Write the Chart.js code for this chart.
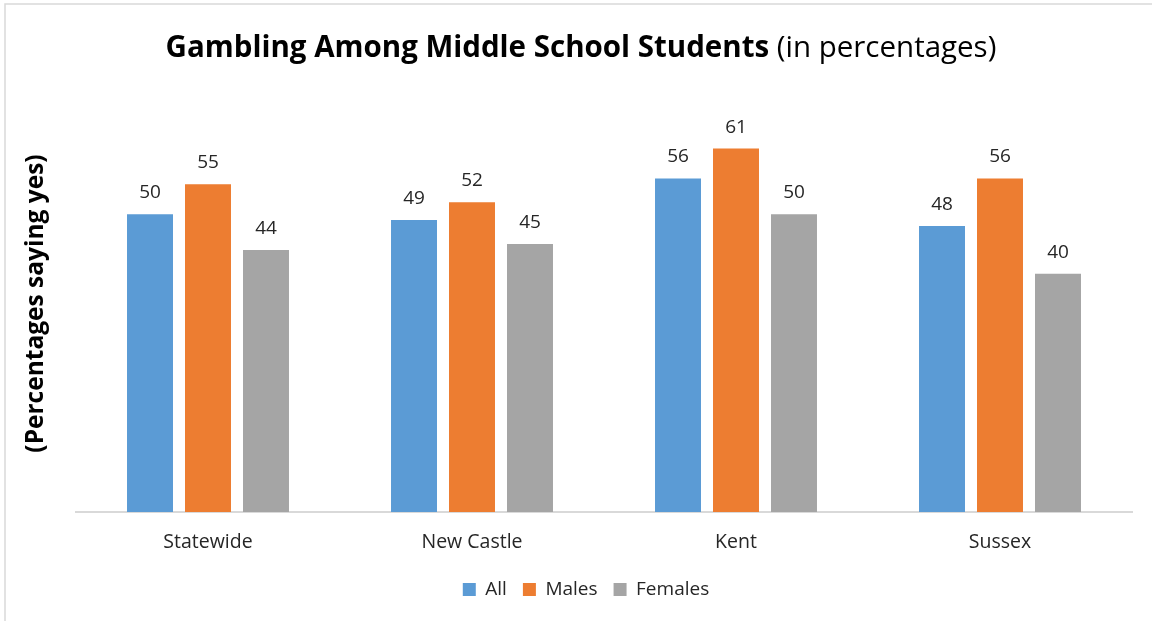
<!DOCTYPE html>
<html>
<head>
<meta charset="utf-8">
<script src="https://cdn.jsdelivr.net/npm/chart.js@4.4.1/dist/chart.umd.min.js"></script>
<style>
  html, body { margin: 0; padding: 0; background: #ffffff; }
  #wrap { width: 1152px; height: 621px; }
</style>
</head>
<body>
<div id="wrap"><canvas id="chart" width="1152" height="621"></canvas></div>
<script>
// Survey results by region
const categories = ['Statewide', 'New Castle', 'Kent', 'Sussex'];
const allStudents = [50, 49, 56, 48];
const males = [55, 52, 61, 56];
const females = [44, 45, 50, 40];
const seriesNames = ['All', 'Males', 'Females'];

const titleBold = 'Gambling Among Middle School Students';
const titleRest = ' (in percentages)';
const yAxisTitle = '(Percentages saying yes)';

const FONT = '"Open Sans", "Noto Sans", sans-serif';
const TEXT = '#262626';

// White background and thin frame around the chart
const framePlugin = {
  id: 'frame',
  beforeDraw(chart) {
    const ctx = chart.ctx;
    ctx.save();
    ctx.fillStyle = '#ffffff';
    ctx.fillRect(0, 0, chart.width, chart.height);
    ctx.strokeStyle = '#D9D9D9';
    ctx.lineWidth = 1.5;
    ctx.beginPath();
    ctx.moveTo(5, chart.height);
    ctx.lineTo(5, 4);
    ctx.lineTo(chart.width, 4);
    ctx.stroke();
    ctx.restore();
  }
};

// Two-part title: bold main text followed by a regular-weight note
const titlePlugin = {
  id: 'mixedTitle',
  afterDraw(chart) {
    const ctx = chart.ctx;
    ctx.save();
    const boldFont = 'bold 29.5px ' + FONT;
    const normFont = '29.5px ' + FONT;
    ctx.font = boldFont;
    const wb = ctx.measureText(titleBold).width;
    ctx.font = normFont;
    const wn = ctx.measureText(titleRest).width;
    const cx = 581;
    const x = cx - (wb + wn) / 2;
    const y = 57;
    ctx.textAlign = 'left';
    ctx.textBaseline = 'alphabetic';
    ctx.fillStyle = '#000000';
    ctx.font = boldFont;
    ctx.fillText(titleBold, x, y);
    ctx.font = normFont;
    ctx.fillText(titleRest, x + wb, y);
    ctx.restore();
  }
};

// Legend row sits a little right of the page centre, under the plot
const legendShift = {
  id: 'legendShift',
  afterLayout(chart) {
    const lg = chart.legend;
    if (lg) { lg.left += 17; lg.right += 17; }
  }
};

// Value printed above each bar
const valueLabels = {
  id: 'valueLabels',
  afterDatasetsDraw(chart) {
    const ctx = chart.ctx;
    ctx.save();
    ctx.font = '19px ' + FONT;
    ctx.fillStyle = TEXT;
    ctx.textAlign = 'center';
    ctx.textBaseline = 'alphabetic';
    chart.data.datasets.forEach((ds, i) => {
      chart.getDatasetMeta(i).data.forEach((bar, j) => {
        ctx.fillText(String(ds.data[j]), bar.x, bar.y - 16);
      });
    });
    ctx.restore();
  }
};

new Chart(document.getElementById('chart'), {
  type: 'bar',
  data: {
    labels: categories,
    datasets: [
      { label: seriesNames[0], data: allStudents, backgroundColor: '#5B9BD5' },
      { label: seriesNames[1], data: males, backgroundColor: '#ED7D31' },
      { label: seriesNames[2], data: females, backgroundColor: '#A5A5A5' }
    ]
  },
  options: {
    responsive: false,
    animation: false,
    devicePixelRatio: 1,
    datasets: {
      bar: { barPercentage: 0.793, categoryPercentage: 0.659 }
    },
    layout: { padding: { top: 95, left: 6, right: 20, bottom: 12 } },
    plugins: {
      title: { display: false },
      tooltip: { enabled: false },
      legend: {
        position: 'bottom',
        labels: {
          boxWidth: 13,
          boxHeight: 13,
          padding: 16,
          color: TEXT,
          font: { family: FONT, size: 19 }
        }
      }
    },
    scales: {
      x: {
        grid: { display: false, drawTicks: false },
        border: { color: '#D9D9D9', width: 2 },
        ticks: { color: TEXT, padding: 19, font: { family: FONT, size: 19.5 } },
        afterFit(scale) { scale.height = 52; }
      },
      y: {
        min: 0,
        max: 70,
        grid: { display: false },
        border: { display: false },
        ticks: { display: false },
        title: {
          display: true,
          text: yAxisTitle,
          color: '#000000',
          padding: { top: 15, bottom: 0 },
          font: { family: FONT, size: 24.5, weight: 'bold' }
        },
        afterFit(scale) { scale.width = 70; }
      }
    }
  },
  plugins: [framePlugin, titlePlugin, legendShift, valueLabels]
});
</script>
</body>
</html>
